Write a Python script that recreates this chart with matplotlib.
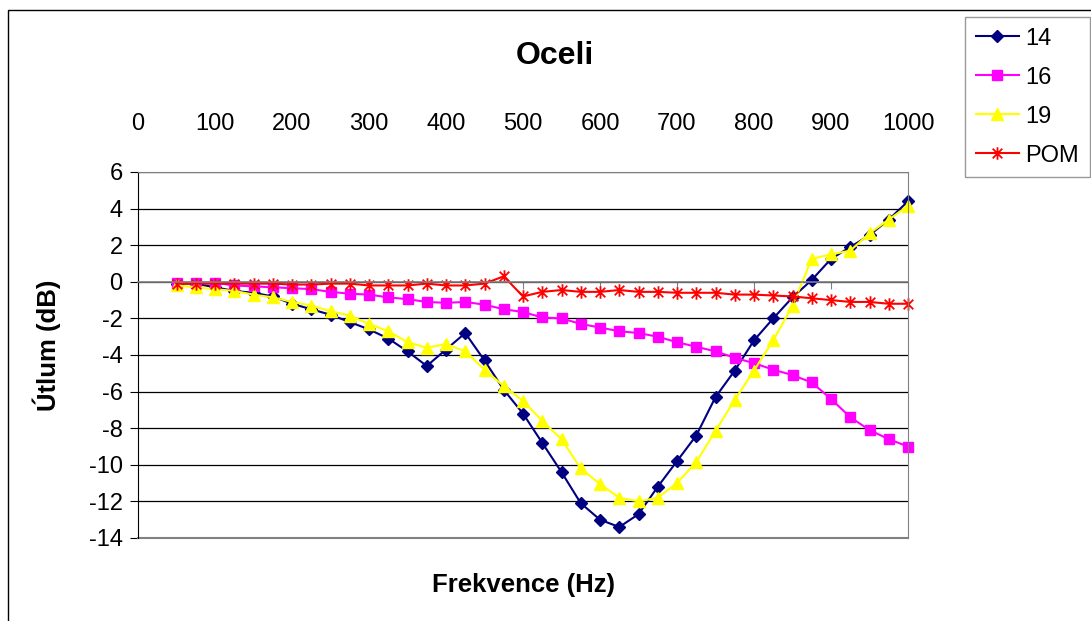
import matplotlib
matplotlib.use('Agg')
import matplotlib.pyplot as plt
from matplotlib.path import Path
from matplotlib.patches import Rectangle

plt.rcParams['font.family'] = ['Liberation Sans', 'DejaVu Sans']
plt.rcParams['axes.unicode_minus'] = False

# data
freq = [50, 75, 100, 125, 150, 175, 200, 225, 250, 275, 300, 325, 350, 375,
        400, 425, 450, 475, 500, 525, 550, 575, 600, 625, 650, 675, 700, 725,
        750, 775, 800, 825, 850, 875, 900, 925, 950, 975, 1000]
s14 = [-0.1, -0.1, -0.3, -0.5, -0.6, -0.8, -1.2, -1.5, -1.8, -2.2, -2.6, -3.1,
       -3.8, -4.6, -3.7, -2.8, -4.3, -5.9, -7.2, -8.8, -10.4, -12.1, -13.0,
       -13.4, -12.7, -11.2, -9.8, -8.4, -6.3, -4.85, -3.2, -2.0, -0.85, 0.1,
       1.25, 1.9, 2.55, 3.4, 4.4]
s16 = [-0.05, -0.05, -0.05, -0.2, -0.25, -0.3, -0.35, -0.4, -0.55, -0.65, -0.7,
       -0.85, -0.95, -1.1, -1.15, -1.1, -1.25, -1.5, -1.65, -1.95, -2.0, -2.3,
       -2.5, -2.7, -2.8, -3.0, -3.3, -3.55, -3.8, -4.15, -4.45, -4.8, -5.1,
       -5.5, -6.4, -7.4, -8.1, -8.6, -9.0]
s19 = [-0.2, -0.3, -0.4, -0.5, -0.7, -0.85, -1.1, -1.3, -1.6, -1.85, -2.3, -2.7,
       -3.3, -3.6, -3.4, -3.8, -4.8, -5.7, -6.5, -7.6, -8.6, -10.2, -11.05,
       -11.8, -12.0, -11.8, -11.0, -9.85, -8.15, -6.45, -4.85, -3.2, -1.3,
       1.25, 1.5, 1.7, 2.65, 3.4, 4.15]
pom = [-0.1, -0.1, -0.1, -0.1, -0.1, -0.1, -0.15, -0.15, -0.1, -0.1, -0.2, -0.2,
       -0.2, -0.1, -0.2, -0.2, -0.1, 0.3, -0.8, -0.55, -0.45, -0.55, -0.55,
       -0.45, -0.55, -0.55, -0.6, -0.6, -0.6, -0.7, -0.7, -0.75, -0.8, -0.9,
       -1.0, -1.1, -1.1, -1.2, -1.2]
xticks = [0, 100, 200, 300, 400, 500, 600, 700, 800, 900, 1000]
yticks = [-14, -12, -10, -8, -6, -4, -2, 0, 2, 4, 6]

# excel style star marker
star = Path([(-1, -1), (1, 1), (-1, 1), (1, -1), (0, -1.3), (0, 1.3)],
            [Path.MOVETO, Path.LINETO, Path.MOVETO, Path.LINETO,
             Path.MOVETO, Path.LINETO])

W, H = 1091, 621
fig = plt.figure(figsize=(W / 100, H / 100), dpi=100)

# outer chart border (only top and left are visible)
fig.patches.append(Rectangle((8 / W, -0.2), 1.5, 1.2 - 10 / H,
                             transform=fig.transFigure, fill=False,
                             edgecolor='black', lw=1))

ax = fig.add_axes([138 / W, 83 / H, 770 / W, 366 / H])

ax.plot(freq, s14, color='#000080', lw=1.5, marker='D', ms=6,
        clip_on=False, label='14')
ax.plot(freq, s16, color='#FF00FF', lw=1.5, marker='s', ms=7,
        clip_on=False, label='16')
ax.plot(freq, s19, color='#FFFF00', lw=1.5, marker='^', ms=9,
        clip_on=False, label='19')
ax.plot(freq, pom, color='#FF0000', lw=1.5, marker=star, ms=9, mew=1.3,
        clip_on=False, label='POM')

ax.set_xlim(0, 1000)
ax.set_ylim(-14, 6)
ax.set_xticks(xticks)
ax.set_yticks(yticks)
ax.yaxis.grid(True, color='black', lw=0.9)
ax.set_axisbelow(True)

for s in ['top', 'right']:
    ax.spines[s].set_color('#808080')
ax.spines['left'].set_color('black')
ax.spines['bottom'].set_position(('data', 0))
ax.spines['bottom'].set_color('#808080')
ax.spines['bottom'].set_linewidth(1.2)
# plot area bottom border
ax.axhline(-14, color='#808080', lw=1.5, clip_on=False)

ax.tick_params(axis='x', bottom=True, top=False, labelbottom=False,
               labeltop=True, direction='out', length=5, color='#808080',
               labelsize=17, pad=22)
ax.tick_params(axis='y', direction='out', length=6, labelsize=17, pad=5)

fig.text(47 / W, 1 - 345 / H, 'Útlum (dB)', fontsize=18.5, fontweight='bold',
         rotation=90, ha='center', va='center')
fig.text(523 / W, 1 - 585 / H, 'Frekvence (Hz)', fontsize=18.5,
         fontweight='bold', ha='center', va='center')
fig.text(555 / W, 1 - 56 / H, 'Oceli', fontsize=23, fontweight='bold',
         ha='center', va='center')

leg = ax.legend(loc='upper left', bbox_to_anchor=(965 / W, 1 - 17 / H),
                bbox_transform=fig.transFigure, borderaxespad=0,
                fontsize=17, frameon=True, fancybox=False, handlelength=1.85,
                labelspacing=0.72, handletextpad=0.25, borderpad=0.45)
leg.get_frame().set_edgecolor('#808080')
leg.get_frame().set_linewidth(1)

fig.savefig('out.png', dpi=100)
